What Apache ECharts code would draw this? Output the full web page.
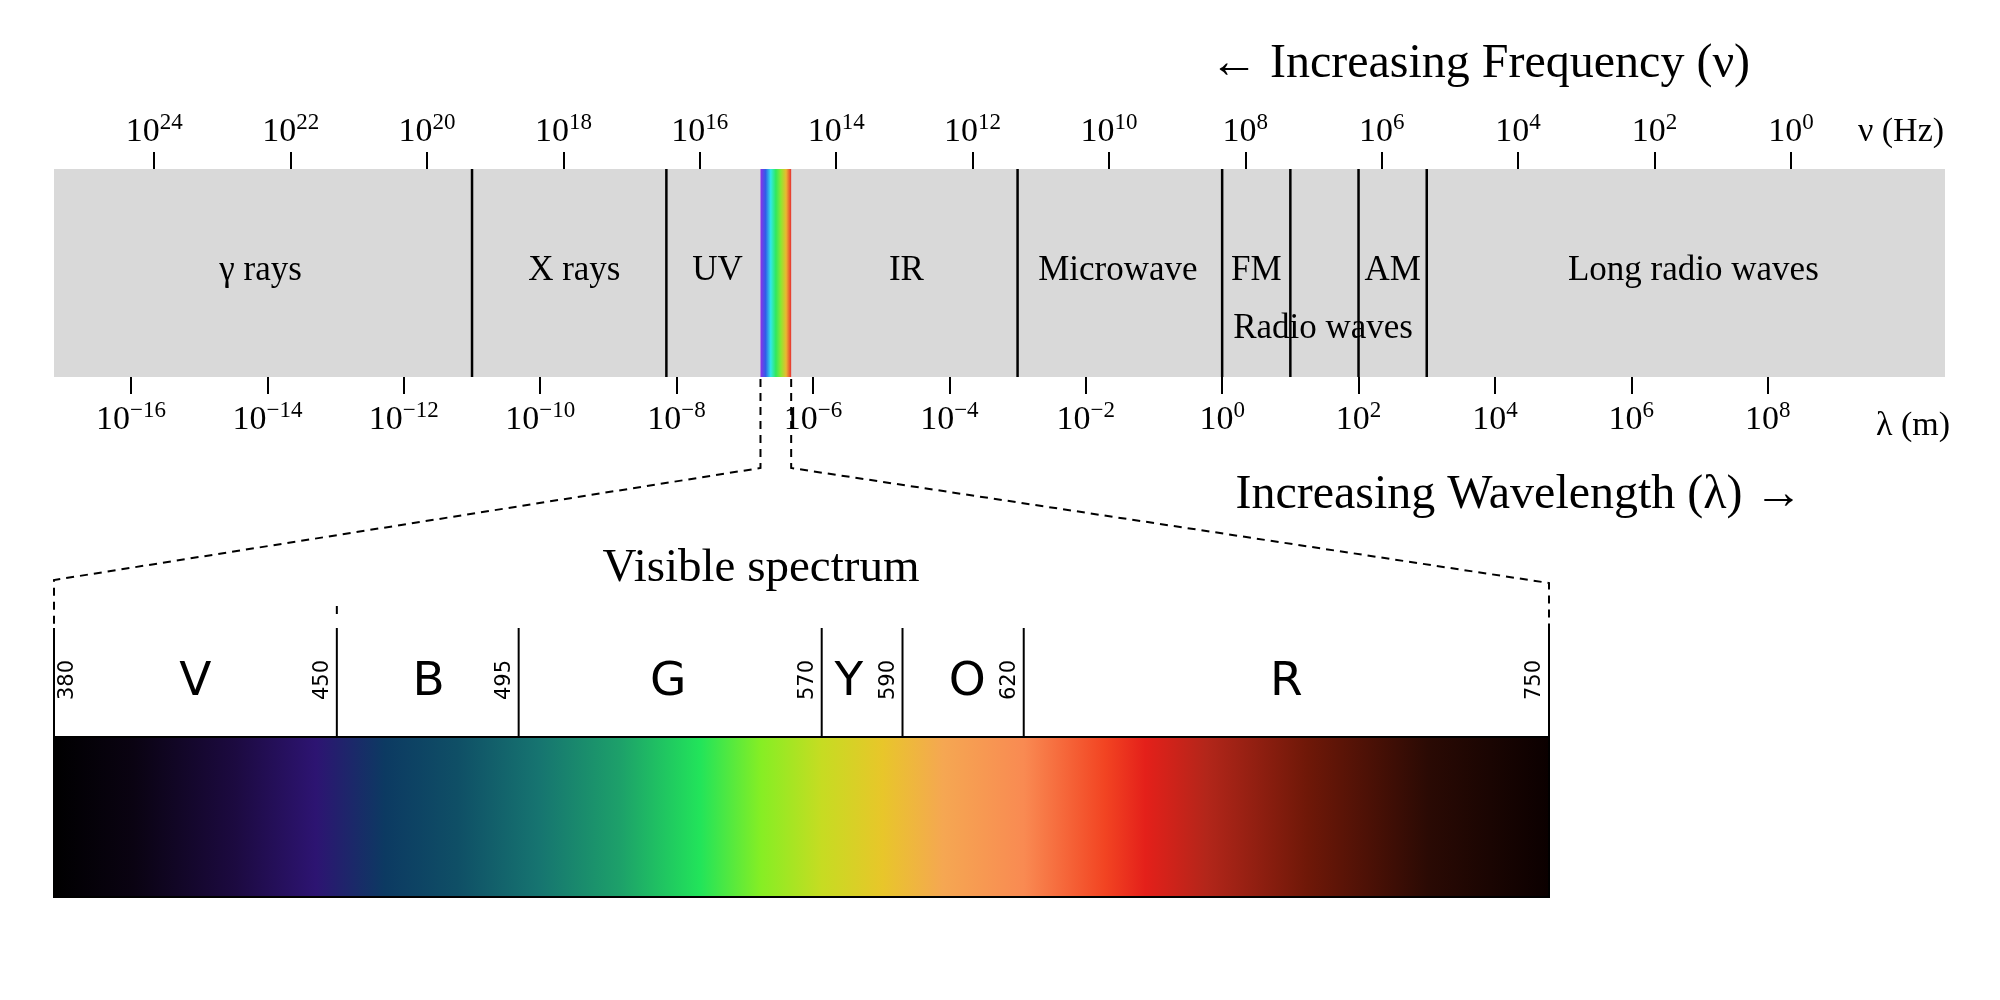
<!DOCTYPE html>
<html><head><meta charset="utf-8">
<script src="https://cdn.jsdelivr.net/npm/echarts@6/dist/echarts.min.js"></script>
<style>html,body{margin:0;background:#fff}#main{width:2000px;height:1000px}</style>
</head><body><div id="main"></div>
<script>
// wavelength exponents (log10 m) of band borders
var bandMin = -17.13, bandMax = 10.6;
var borders = [-11, -8.15, -3, 0, 1, 2, 3];
var visBand = [-6.77, -6.32];
var wlTicks = [-16, -14, -12, -10, -8, -6, -4, -2, 0, 2, 4, 6, 8];
var fqTicks = [24, 22, 20, 18, 16, 14, 12, 10, 8, 6, 4, 2, 0];
var bandNames = ['γ rays', 'X rays', 'UV', 'IR', 'Microwave', 'FM', 'AM', 'Long radio waves', 'Radio waves'];
var bandPos = [-14.1, -9.5, -7.4, -4.63, -1.53, 0.5, 2.5, 6.91, 1.48];
var bandRow = [0.51, 0.51, 0.51, 0.51, 0.51, 0.51, 0.51, 0.51, 0.23];
// visible spectrum (nm)
var visBorders = [380, 450, 495, 570, 590, 620, 750];
var colorNames = ['V', 'B', 'G', 'Y', 'O', 'R'];
var colorPos = [415, 472.7, 532, 576.7, 606, 685];
var gradNm = [380, 400, 425, 445, 462, 480, 500, 520, 540, 555, 570, 585, 600, 620, 640, 650, 665, 690, 720, 750];
var gradCol = ['#000000', '#0a0312', '#1c0a40', '#2d1472', '#0c3a62', '#0f4f66', '#167470', '#1da06a', '#22e45a', '#86ee24', '#c6dc22', '#e8c62a', '#f5a752', '#f98a52', '#f24422', '#e4201a', '#b3261a', '#6f1808', '#2a0a04', '#0b0000'];

var serif = 'Liberation Serif';
var chart = echarts.init(document.getElementById('main'));

function pow10(v) {
	var s = String(v).replace('-', '\u2212');
	return '{b|10}{s|' + s + '}';
}
var powRich = {
	b: { fontFamily: serif, fontSize: 34, color: '#000', verticalAlign: 'bottom' },
	s: { fontFamily: serif, fontSize: 23, color: '#000', verticalAlign: 'top', padding: [0, 0, 15, 0] }
};

var rainbow = [];
for (var i = 0; i <= 6; i++) {
	var h = 270 - i * 45;
	rainbow.push({ offset: i / 6, color: 'hsl(' + h + ',80%,55%)' });
}
var visStops = gradNm.map(function(n, i) {
	return { offset: (n - 380) / 370, color: gradCol[i] };
});

chart.setOption({
	animation: false,
	grid: [
		{ left: 54, width: 1891, top: 169, height: 208, show: true, backgroundColor: '#d9d9d9', borderWidth: 0 },
		{ left: 54, width: 1495, top: 628, height: 269 }
	],
	xAxis: [
		{ gridIndex: 0, type: 'value', min: bandMin, max: bandMax, position: 'bottom',
		  axisLine: { show: false }, splitLine: { show: false },
		  axisTick: { customValues: wlTicks, length: 17, lineStyle: { color: '#000', width: 2 } },
		  axisLabel: { customValues: wlTicks, margin: 22, formatter: pow10, rich: powRich } },
		{ gridIndex: 0, type: 'value', min: 8.34 - bandMax, max: 8.34 - bandMin, position: 'top', inverse: true,
		  axisLine: { show: false }, splitLine: { show: false },
		  axisTick: { customValues: fqTicks, length: 17, lineStyle: { color: '#000', width: 2 } },
		  axisLabel: { customValues: fqTicks, margin: 20, formatter: pow10, rich: powRich } },
		{ gridIndex: 1, type: 'value', min: 380, max: 750, show: false }
	],
	yAxis: [
		{ gridIndex: 0, type: 'value', min: 0, max: 1, show: false },
		{ gridIndex: 1, type: 'value', min: 0, max: 1, show: false }
	],
	series: [
		{ // visible strip in the band
		  type: 'custom', xAxisIndex: 0, yAxisIndex: 0, data: [visBand],
		  renderItem: function(p, api) {
			var a = api.coord([api.value(0), 1]), b = api.coord([api.value(1), 0]);
			return { type: 'rect', shape: { x: a[0], y: a[1], width: b[0] - a[0], height: b[1] - a[1] },
				style: { fill: new echarts.graphic.LinearGradient(0, 0, 1, 0, rainbow) } };
		  } },
		{ // band borders
		  type: 'custom', xAxisIndex: 0, yAxisIndex: 0, data: borders.map(function(v) { return [v]; }),
		  renderItem: function(p, api) {
			var a = api.coord([api.value(0), 1]), b = api.coord([api.value(0), 0]);
			return { type: 'line', shape: { x1: a[0], y1: a[1], x2: b[0], y2: b[1] }, style: { stroke: '#000', lineWidth: 2.5 } };
		  } },
		{ // band names
		  type: 'custom', xAxisIndex: 0, yAxisIndex: 0,
		  data: bandNames.map(function(n, i) { return [bandPos[i], bandRow[i], n]; }),
		  renderItem: function(p, api) {
			var c = api.coord([api.value(0), api.value(1)]);
			return { type: 'text', x: c[0], y: c[1], style: { text: bandNames[p.dataIndex], fontFamily: serif, fontSize: 35, fill: '#000', align: 'center', verticalAlign: 'middle' } };
		  } },
		{ // visible gradient
		  type: 'custom', xAxisIndex: 2, yAxisIndex: 1, data: [[380, 750]],
		  renderItem: function(p, api) {
			var a = api.coord([api.value(0), 0.595]), b = api.coord([api.value(1), 0]);
			return { type: 'rect', shape: { x: a[0], y: a[1], width: b[0] - a[0], height: b[1] - a[1] },
				style: { fill: new echarts.graphic.LinearGradient(0, 0, 1, 0, visStops), stroke: '#000', lineWidth: 2 } };
		  } },
		{ // visible borders + numbers
		  type: 'custom', xAxisIndex: 2, yAxisIndex: 1, data: visBorders.map(function(v) { return [v]; }),
		  renderItem: function(p, api) {
			var a = api.coord([api.value(0), 1]), b = api.coord([api.value(0), 0.595]);
			var first = p.dataIndex === 0;
			return { type: 'group', children: [
				{ type: 'line', shape: { x1: a[0], y1: a[1], x2: b[0], y2: b[1] }, style: { stroke: '#000', lineWidth: 2 } },
				{ type: 'text', x: first ? a[0] + 14 : a[0] - 14, y: a[1] + 52, rotation: Math.PI / 2,
				  style: { text: String(visBorders[p.dataIndex]), fontFamily: 'DejaVu Sans', fontSize: 21, fill: '#000', align: 'center', verticalAlign: 'middle' } }
			] };
		  } },
		{ // colour names
		  type: 'custom', xAxisIndex: 2, yAxisIndex: 1,
		  data: colorNames.map(function(n, i) { return [colorPos[i], 0.796]; }),
		  renderItem: function(p, api) {
			var c = api.coord([api.value(0), api.value(1)]);
			return { type: 'text', x: c[0], y: c[1], style: { text: colorNames[p.dataIndex], fontFamily: 'DejaVu Sans', fontSize: 47, fill: '#000', align: 'center', verticalAlign: 'middle' } };
		  } }
	]
});

// connectors between the band and the visible spectrum
var xl = chart.convertToPixel({ xAxisIndex: 0 }, visBand[0]);
var xr = chart.convertToPixel({ xAxisIndex: 0 }, visBand[1]);
var vl = chart.convertToPixel({ xAxisIndex: 2 }, 380);
var vr = chart.convertToPixel({ xAxisIndex: 2 }, 750);
var v450 = chart.convertToPixel({ xAxisIndex: 2 }, 450);
var dash = { stroke: '#000', lineWidth: 2, lineDash: [8, 6], fill: null };
chart.setOption({ graphic: [
	{ type: 'polyline', shape: { points: [[xl, 379], [xl, 468], [vl, 580], [vl, 628]] }, style: dash },
	{ type: 'polyline', shape: { points: [[xr, 379], [xr, 468], [vr, 583], [vr, 628]] }, style: dash },
	{ type: 'line', shape: { x1: v450, y1: 606, x2: v450, y2: 614 }, style: { stroke: '#000', lineWidth: 2 } },
	{ type: 'text', x: 1480, y: 64, style: { text: '\u2190 Increasing Frequency (\u03bd)', fontFamily: serif, fontSize: 48, fill: '#000', align: 'center', verticalAlign: 'middle' } },
	{ type: 'text', x: 1519, y: 495, style: { text: 'Increasing Wavelength (\u03bb) \u2192', fontFamily: serif, fontSize: 48, fill: '#000', align: 'center', verticalAlign: 'middle' } },
	{ type: 'text', x: 761, y: 569, style: { text: 'Visible spectrum', fontFamily: serif, fontSize: 47, fill: '#000', align: 'center', verticalAlign: 'middle' } },
	{ type: 'text', x: 1901, y: 132, style: { text: '\u03bd (Hz)', fontFamily: serif, fontSize: 34, fill: '#000', align: 'center', verticalAlign: 'middle' } },
	{ type: 'text', x: 1913, y: 426, style: { text: '\u03bb (m)', fontFamily: serif, fontSize: 34, fill: '#000', align: 'center', verticalAlign: 'middle' } }
] });
</script>
</body></html>
